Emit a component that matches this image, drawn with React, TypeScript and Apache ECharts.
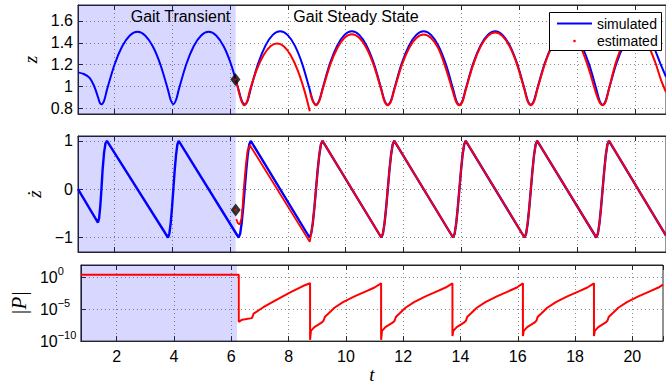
import React, { useEffect, useRef } from 'react';
import * as echarts from 'echarts';

// ---- axes ----
const T_MIN = 0.75;
const T_MAX = 21.07;
const TRANSIENT_END = 6.2;
const X_TICKS = [2, 4, 6, 8, 10, 12, 14, 16, 18, 20];
const Z_TICKS = [0.8, 1, 1.2, 1.4, 1.6];
const ZD_TICKS = [-1, 0, 1];
const P_TICK_EXP = [0, -5, -10];

// ---- z : simulated (blue) ----
const Z_SIM: [number, number][] = [
  [0.75, 1.13], [0.95, 1.115], [1.15, 1.08], [1.3, 1.01], [1.44, 0.905], [1.5, 0.855], [1.56, 0.838], [1.65, 0.87], [1.75, 0.97],
  [2.014, 1.202], [2.278, 1.368], [2.541, 1.467], [2.805, 1.5], [3.069, 1.467], [3.333, 1.368], [3.596, 1.202], [3.86, 0.97],
  [3.95, 0.88], [4.045, 0.84], [4.14, 0.88], [4.23, 0.97],
  [4.489, 1.202], [4.748, 1.368], [5.006, 1.467], [5.265, 1.5], [5.524, 1.467], [5.783, 1.368], [6.041, 1.202], [6.3, 0.97],
  [6.405, 0.875], [6.51, 0.838], [6.615, 0.875], [6.72, 0.98],
  [6.974, 1.21], [7.228, 1.374], [7.481, 1.472], [7.735, 1.505], [7.989, 1.472], [8.243, 1.374], [8.496, 1.21], [8.75, 0.98],
  [8.8625, 0.875], [8.975, 0.835], [9.0875, 0.875], [9.2, 0.98],
  [9.454, 1.21], [9.708, 1.374], [9.961, 1.472], [10.215, 1.505], [10.469, 1.472], [10.723, 1.374], [10.976, 1.21], [11.23, 0.98],
  [11.3425, 0.875], [11.455, 0.835], [11.5675, 0.875], [11.68, 0.98],
  [11.934, 1.21], [12.188, 1.374], [12.441, 1.472], [12.695, 1.505], [12.949, 1.472], [13.203, 1.374], [13.456, 1.21], [13.71, 0.98],
  [13.82, 0.875], [13.93, 0.835], [14.04, 0.875], [14.15, 0.98],
  [14.404, 1.21], [14.658, 1.374], [14.911, 1.472], [15.165, 1.505], [15.419, 1.472], [15.673, 1.374], [15.926, 1.21], [16.18, 0.98],
  [16.29, 0.875], [16.4, 0.835], [16.51, 0.875], [16.62, 0.98],
  [16.875, 1.21], [17.13, 1.374], [17.385, 1.472], [17.64, 1.505], [17.895, 1.472], [18.15, 1.374], [18.405, 1.21], [18.66, 0.98],
  [18.77, 0.875], [18.88, 0.835], [18.99, 0.875], [19.1, 0.98],
  [19.354, 1.21], [19.608, 1.374], [19.861, 1.472], [20.115, 1.505], [20.369, 1.472], [20.623, 1.374], [20.876, 1.21], [21.07, 1.09],
];

// ---- z : estimated (red) ----
const Z_EST: [number, number | string][] = [
  [6.22, 1.05], [6.3, 0.96], [6.4, 0.87], [6.49, 0.83], [6.59, 0.86], [6.69, 0.965], [6.92, 1.151], [7.16, 1.287], [7.4, 1.369],
  [7.63, 1.394], [7.86, 1.369], [8.1, 1.287], [8.34, 1.151], [8.58, 0.959], [8.76, 0.775],
  [8.77, '-'],
  [8.78, 0.94], [8.8625, 0.87], [8.975, 0.83], [9.0875, 0.87], [9.2, 0.97],
  [9.454, 1.192], [9.708, 1.351], [9.961, 1.446], [10.215, 1.478], [10.469, 1.446], [10.723, 1.351], [10.976, 1.192], [11.23, 0.97],
  [11.3425, 0.865], [11.455, 0.83], [11.5675, 0.865], [11.68, 0.97],
  [11.934, 1.191], [12.188, 1.349], [12.441, 1.443], [12.695, 1.475], [12.949, 1.443], [13.203, 1.349], [13.456, 1.17], [13.71, 0.95],
  [13.82, 0.86], [13.93, 0.83], [14.04, 0.865], [14.15, 0.97],
  [14.404, 1.199], [14.658, 1.363], [14.911, 1.461], [15.165, 1.494], [15.419, 1.461], [15.673, 1.363], [15.926, 1.199], [16.18, 0.97],
  [16.29, 0.865], [16.4, 0.83], [16.51, 0.865], [16.62, 0.97],
  [16.875, 1.2], [17.13, 1.365], [17.385, 1.462], [17.62, 1.495], [17.87, 1.46], [18.12, 1.36], [18.38, 1.18], [18.64, 0.95],
  [18.77, 0.86], [18.88, 0.83], [18.99, 0.865], [19.1, 0.98],
  [19.35, 1.23], [19.6, 1.4], [19.8, 1.475], [19.98, 1.495], [20.2, 1.47], [20.45, 1.38], [20.7, 1.22], [20.9, 1.06], [21.07, 0.95],
];

// ---- z-dot : simulated (blue) ----
const ZD_SIM: [number, number][] = [
  [0.75, 0], [1.44, -0.69], [1.48, -0.6], [1.52, -0.35], [1.56, 0], [1.6, 0.4], [1.65, 0.75], [1.7, 0.95], [1.75, 1],
  [3.86, -1], [3.906, -0.924], [3.953, -0.707], [3.999, -0.383], [4.045, 0], [4.091, 0.383], [4.138, 0.707], [4.184, 0.924], [4.23, 1],
  [6.3, -1], [6.353, -0.924], [6.405, -0.707], [6.458, -0.383], [6.51, 0], [6.563, 0.383], [6.615, 0.707], [6.668, 0.924], [6.72, 1],
  [8.75, -1], [8.806, -0.924], [8.863, -0.707], [8.919, -0.383], [8.975, 0], [9.031, 0.383], [9.088, 0.707], [9.144, 0.924], [9.2, 1],
  [11.23, -1], [11.286, -0.924], [11.343, -0.707], [11.399, -0.383], [11.455, 0], [11.511, 0.383], [11.568, 0.707], [11.624, 0.924], [11.68, 1],
  [13.71, -1], [13.765, -0.924], [13.82, -0.707], [13.875, -0.383], [13.93, 0], [13.985, 0.383], [14.04, 0.707], [14.095, 0.924], [14.15, 1],
  [16.18, -1], [16.235, -0.924], [16.29, -0.707], [16.345, -0.383], [16.4, 0], [16.455, 0.383], [16.51, 0.707], [16.565, 0.924], [16.62, 1],
  [18.66, -1], [18.715, -0.924], [18.77, -0.707], [18.825, -0.383], [18.88, 0], [18.935, 0.383], [18.99, 0.707], [19.045, 0.924], [19.1, 1],
  [21.07, -0.96],
];

// ---- z-dot : estimated (red) ----
const ZD_EST: [number, number][] = [
  [6.22, -0.62], [6.27, -0.7], [6.34, -0.73], [6.4, -0.6], [6.44, -0.35], [6.49, 0.09], [6.55, 0.5], [6.61, 0.8], [6.69, 0.91],
  [8.76, -1.09],
  [8.806, -0.924], [8.863, -0.707], [8.919, -0.383], [8.975, 0], [9.031, 0.383], [9.088, 0.707], [9.144, 0.924], [9.2, 1],
  [11.23, -1], [11.286, -0.924], [11.343, -0.707], [11.399, -0.383], [11.455, 0], [11.511, 0.383], [11.568, 0.707], [11.624, 0.924], [11.68, 1],
  [13.71, -1], [13.765, -0.924], [13.82, -0.707], [13.875, -0.383], [13.93, 0], [13.985, 0.383], [14.04, 0.707], [14.095, 0.924], [14.15, 1],
  [16.18, -1], [16.235, -0.924], [16.29, -0.707], [16.345, -0.383], [16.4, 0], [16.455, 0.383], [16.51, 0.707], [16.565, 0.924], [16.62, 1],
  [18.66, -1], [18.715, -0.924], [18.77, -0.707], [18.825, -0.383], [18.88, 0], [18.935, 0.383], [18.99, 0.707], [19.045, 0.924], [19.1, 1],
  [21.07, -0.96],
];

// ---- |P| (red) ----
const P_EST: [number, number][] = [
  [0.75, 3], [6.26, 3], [6.26, 1.1e-7], [6.38, 2.4e-7], [6.72, 4.2e-7], [6.78, 2.2e-6], [7.12, 2.2e-5], [7.59, 3.6e-4], [8.04, 4.5e-3], [8.5, 4.8e-2], [8.75, 0.13],
  [8.75, 1.6e-10], [8.78, 4e-9], [8.9, 1.6e-8], [9.15, 7.9e-8], [9.22, 1.6e-7], [9.27, 7.1e-7], [9.4, 2.5e-6], [9.6, 1.8e-5], [9.9, 1.4e-4], [10.3, 1.1e-3], [10.7, 7.1e-3], [11.0, 2.8e-2], [11.23, 0.13],
  [11.23, 1.6e-10], [11.26, 4e-9], [11.38, 1.6e-8], [11.63, 7.9e-8], [11.7, 1.6e-7], [11.75, 7.1e-7], [11.88, 2.5e-6], [12.08, 1.8e-5], [12.38, 1.4e-4], [12.78, 1.1e-3], [13.18, 7.1e-3], [13.48, 2.8e-2], [13.72, 0.13],
  [13.72, 6.3e-10], [13.75, 4e-9], [13.87, 1.6e-8], [14.12, 7.9e-8], [14.19, 1.6e-7], [14.24, 7.1e-7], [14.37, 2.5e-6], [14.57, 1.8e-5], [14.87, 1.4e-4], [15.27, 1.1e-3], [15.67, 7.1e-3], [15.97, 2.8e-2], [16.18, 0.13],
  [16.18, 6.3e-10], [16.21, 4e-9], [16.33, 1.6e-8], [16.58, 7.9e-8], [16.65, 1.6e-7], [16.7, 7.1e-7], [16.83, 2.5e-6], [17.03, 1.8e-5], [17.33, 1.4e-4], [17.73, 1.1e-3], [18.13, 7.1e-3], [18.43, 2.8e-2], [18.66, 0.13],
  [18.66, 6.3e-10], [18.69, 4e-9], [18.81, 1.6e-8], [19.06, 7.9e-8], [19.13, 1.6e-7], [19.18, 7.1e-7], [19.31, 2.5e-6], [19.51, 1.8e-5], [19.81, 1.4e-4], [20.21, 1.1e-3], [20.61, 7.1e-3], [20.91, 2.8e-2], [21.07, 0.08],
];

// ---- markers at filter start ----
const DIAMOND_Z: [number, number][] = [[6.19, 1.065]];
const DIAMOND_ZD: [number, number][] = [[6.2, -0.43]];

const SANS = 'Liberation Sans, Arial, Helvetica, sans-serif';
const SERIF = 'Liberation Serif, Times New Roman, serif';
const AX = '#262626';
const BLUE = '#0000ff';
const RED = '#ff0000';
const SHADE = 'rgba(0,0,255,0.155)';

function near(list: number[], v: number) {
  return list.find((t) => Math.abs(t - v) < 1e-6);
}

export default function App() {
  const ref = useRef<HTMLDivElement>(null);

  useEffect(() => {
    if (!ref.current) return;
    const chart = echarts.init(ref.current, undefined, { renderer: 'svg' });

    const grids = [
      { left: 78, right: -2, top: 5, height: 109 },
      { left: 78, right: -2, top: 136, height: 116 },
      { left: 78, right: -2, top: 265, height: 81 },
    ].map((g) => ({ ...g, show: true, borderColor: AX, borderWidth: 1, backgroundColor: 'transparent' }));

    const gridLine = { show: true, lineStyle: { color: '#8a8a8a', width: 1, type: [1, 3] as any } };
    const tick = { show: true, inside: true, length: 5, lineStyle: { color: AX, width: 1 } };

    const xLabel = {
      fontFamily: SANS, fontSize: 16, color: '#000', margin: 7,
      formatter: (v: number) => {
        const t = near(X_TICKS, v);
        return t === undefined ? '' : String(t);
      },
    };

    const xAxes: any[] = [];
    for (let i = 0; i < 3; i++) {
      xAxes.push({
        type: 'value', gridIndex: i, min: T_MIN, max: T_MAX, splitNumber: 10, position: 'bottom',
        axisLine: { show: true, onZero: false, lineStyle: { color: AX, width: 1 } },
        axisTick: tick,
        splitLine: gridLine,
        axisLabel: i === 2 ? xLabel : { show: false },
        ...(i === 2
          ? { name: 't', nameLocation: 'middle', nameGap: 23,
              nameTextStyle: { fontFamily: SERIF, fontStyle: 'italic', fontSize: 19, color: '#000' } }
          : {}),
      });
    }
    for (let i = 0; i < 3; i++) {
      xAxes.push({
        type: 'value', gridIndex: i, min: T_MIN, max: T_MAX, splitNumber: 10, position: 'top',
        axisLine: { show: true, onZero: false, lineStyle: { color: AX, width: 1 } },
        axisTick: tick, splitLine: { show: false }, axisLabel: { show: false },
      });
    }

    const nameStyle = { fontFamily: SERIF, fontStyle: 'italic', fontSize: 19, color: '#000' };

    const yAxes: any[] = [
      {
        type: 'value', gridIndex: 0, min: 0.75, max: 1.745, splitNumber: 5,
        axisLine: { show: true, onZero: false, lineStyle: { color: AX } }, axisTick: tick, splitLine: gridLine,
        axisLabel: {
          fontFamily: SANS, fontSize: 16, color: '#000', margin: 5,
          formatter: (v: number) => { const t = near(Z_TICKS, v); return t === undefined ? '' : String(t); },
        },
        name: 'z', nameLocation: 'middle', nameRotate: 90, nameGap: 28, nameTextStyle: nameStyle,
      },
      {
        type: 'value', gridIndex: 1, min: -1.3, max: 1.1, splitNumber: 2,
        axisLine: { show: true, onZero: false, lineStyle: { color: AX } }, axisTick: tick, splitLine: gridLine,
        axisLabel: {
          fontFamily: SANS, fontSize: 16, color: '#000', margin: 5,
          formatter: (v: number) => {
            const t = near(ZD_TICKS, v);
            return t === undefined ? '' : t < 0 ? '\u2212' + String(-t) : String(t);
          },
        },
        name: '\u017c', nameLocation: 'middle', nameRotate: 90, nameGap: 27, nameTextStyle: nameStyle,
      },
      {
        type: 'log', logBase: 10, gridIndex: 2, min: 1e-10, max: 100, interval: 5,
        axisLine: { show: true, onZero: false, lineStyle: { color: AX } }, axisTick: tick, splitLine: gridLine,
        minorTick: { show: false }, minorSplitLine: { show: false },
        axisLabel: {
          align: 'left', margin: 41, color: '#000',
          formatter: (v: number) => {
            const e = Math.round(Math.log10(v));
            if (Math.abs(Math.log10(v) - e) > 1e-6 || !P_TICK_EXP.includes(e)) return '';
            return '{b|10}{s|' + (e < 0 ? '\u2212' + String(-e) : String(e)) + '}';
          },
          rich: {
            b: { fontFamily: SANS, fontSize: 16, lineHeight: 16, verticalAlign: 'bottom', color: '#000' },
            s: { fontFamily: SANS, fontSize: 11, lineHeight: 11, verticalAlign: 'bottom', padding: [0, 0, 9, 0], color: '#000' },
          },
        },
        name: '|P|', nameLocation: 'middle', nameRotate: 90, nameGap: 45, nameTextStyle: { ...nameStyle, fontSize: 21 },
      },
    ];

    const shade = (name: string) => ({
      silent: true,
      itemStyle: { color: SHADE },
      data: [[{ name, xAxis: T_MIN }, { xAxis: TRANSIENT_END }]],
      label: { show: false },
    });

    const series: any[] = [
      {
        name: 'simulated', type: 'line', xAxisIndex: 0, yAxisIndex: 0, data: Z_SIM, smooth: 0.3,
        showSymbol: false, symbol: 'none', lineStyle: { color: BLUE, width: 2 }, itemStyle: { color: BLUE },
        markArea: shade('transient z'),
      },
      {
        name: 'estimated', type: 'line', xAxisIndex: 0, yAxisIndex: 0, data: Z_EST, smooth: 0.3,
        showSymbol: false, symbol: 'none', connectNulls: false, lineStyle: { color: RED, width: 2 }, itemStyle: { color: RED },
      },
      {
        type: 'scatter', xAxisIndex: 0, yAxisIndex: 0, data: DIAMOND_Z, symbol: 'diamond', symbolSize: [10, 13],
        itemStyle: { color: '#000' }, z: 5,
      },
      {
        type: 'scatter', xAxisIndex: 0, yAxisIndex: 0, data: DIAMOND_Z, symbol: 'circle', symbolSize: 2.5,
        itemStyle: { color: RED }, z: 6,
      },
      {
        name: 'simulated', type: 'line', xAxisIndex: 1, yAxisIndex: 1, data: ZD_SIM,
        showSymbol: false, symbol: 'none', lineStyle: { color: BLUE, width: 2.4 }, itemStyle: { color: BLUE },
        markArea: shade('transient zdot'),
      },
      {
        name: 'estimated', type: 'line', xAxisIndex: 1, yAxisIndex: 1, data: ZD_EST,
        showSymbol: false, symbol: 'none', lineStyle: { color: RED, width: 1.8 }, itemStyle: { color: RED },
      },
      {
        type: 'scatter', xAxisIndex: 1, yAxisIndex: 1, data: DIAMOND_ZD, symbol: 'diamond', symbolSize: [10, 13],
        itemStyle: { color: '#000' }, z: 5,
      },
      {
        type: 'scatter', xAxisIndex: 1, yAxisIndex: 1, data: DIAMOND_ZD, symbol: 'circle', symbolSize: 2.5,
        itemStyle: { color: RED }, z: 6,
      },
      {
        name: '|P|', type: 'line', xAxisIndex: 2, yAxisIndex: 2, data: P_EST,
        showSymbol: false, symbol: 'none', lineStyle: { color: RED, width: 2 }, itemStyle: { color: RED },
        markArea: shade('transient P'),
      },
    ];

    const graphic: any[] = [
      {
        type: 'text', x: 180.5, y: 16, z: 100,
        style: { text: 'Gait Transient', font: '16px ' + SANS, fill: '#000', align: 'center', verticalAlign: 'middle' },
      },
      {
        type: 'text', x: 356, y: 16, z: 100,
        style: { text: 'Gait Steady State', font: '16px ' + SANS, fill: '#000', align: 'center', verticalAlign: 'middle' },
      },
      {
        type: 'group', z: 100,
        children: [
          { type: 'rect', shape: { x: 549.5, y: 12.5, width: 112, height: 38 }, style: { fill: '#fff', stroke: '#000', lineWidth: 1 }, z: 100 },
          { type: 'line', shape: { x1: 557, y1: 23.5, x2: 592, y2: 23.5 }, style: { stroke: BLUE, lineWidth: 2 }, z: 101 },
          { type: 'circle', shape: { cx: 574.5, cy: 41, r: 1.3 }, style: { fill: RED }, z: 101 },
          { type: 'text', x: 597, y: 23.5, z: 101,
            style: { text: 'simulated', font: '14px ' + SANS, fill: '#000', align: 'left', verticalAlign: 'middle' } },
          { type: 'text', x: 597, y: 41, z: 101,
            style: { text: 'estimated', font: '14px ' + SANS, fill: '#000', align: 'left', verticalAlign: 'middle' } },
        ],
      },
    ];

    chart.setOption({
      animation: false,
      backgroundColor: '#fff',
      grid: grids,
      xAxis: xAxes,
      yAxis: yAxes,
      series,
      graphic,
    });

    return () => chart.dispose();
  }, []);

  return (
    <div
      ref={ref}
      style={{ position: 'fixed', left: 0, top: 0, width: 666, height: 385, background: '#fff' }}
    />
  );
}
